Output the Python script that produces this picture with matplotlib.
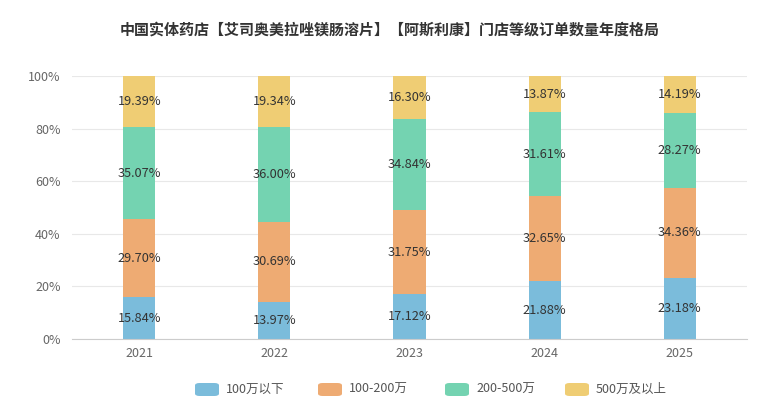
import numpy as np
import matplotlib.pyplot as plt
from matplotlib.patches import FancyBboxPatch

plt.rcParams['font.family'] = ['Noto Sans CJK SC', 'DejaVu Sans']

years = ['2021', '2022', '2023', '2024', '2025']
series = ['100万以下', '100-200万', '200-500万', '500万及以上']
under_100 = [15.84, 13.97, 17.12, 21.88, 23.18]
w100_200 = [29.70, 30.69, 31.75, 32.65, 34.36]
w200_500 = [35.07, 36.00, 34.84, 31.61, 28.27]
over_500 = [19.39, 19.34, 16.30, 13.87, 14.19]
colors = ['#7bbcdb', '#eeab73', '#74d3b1', '#efcd74']

fig = plt.figure(figsize=(7.8, 4), dpi=100)
ax = fig.add_axes([0.092, 0.1525, 0.866, 0.6575])

x = np.arange(len(years))
bottom = np.zeros(len(years))
for vals, col in zip([under_100, w100_200, w200_500, over_500], colors):
    vals = np.array(vals)
    ax.bar(x, vals, 0.237, bottom=bottom, color=col, zorder=2)
    for xi, b, v in zip(x, bottom, vals):
        ax.text(xi, b + v / 2, f'{v:.2f}%', ha='center', va='center',
                fontsize=9.2, color='#333333', zorder=3)
    bottom += vals

ax.set_xlim(-0.5, 4.5)
ax.set_ylim(0, 100)
ax.set_yticks(range(0, 101, 20))
ax.set_yticklabels([f'{v}%' for v in range(0, 101, 20)])
ax.set_xticks(x)
ax.set_xticklabels(years)
ax.tick_params(axis='both', length=0, labelsize=9, labelcolor='#666666')
ax.tick_params(axis='y', pad=8)
ax.tick_params(axis='x', pad=6)
ax.grid(axis='y', color='#e8e8e8', linewidth=0.8, zorder=0)
for s in ['top', 'right', 'left']:
    ax.spines[s].set_visible(False)
ax.spines['bottom'].set_color('#cccccc')

fig.text(0.5, 0.925, '中国实体药店【艾司奥美拉唑镁肠溶片】【阿斯利康】门店等级订单数量年度格局',
         ha='center', va='center', fontsize=10.8, fontweight='bold', color='#333333')

# legend
lx = [195, 318, 445, 565]
for px, col, lab in zip(lx, colors, series):
    fig.patches.append(FancyBboxPatch((px / 780, 1 - 396 / 400), 24 / 780, 13 / 400,
                                      boxstyle='round,pad=0,rounding_size=0.006',
                                      transform=fig.transFigure, facecolor=col,
                                      edgecolor='none'))
    fig.text((px + 31) / 780, 1 - 389.5 / 400, lab, ha='left', va='center',
             fontsize=9, color='#555555')

fig.savefig('out.png', dpi=100)
